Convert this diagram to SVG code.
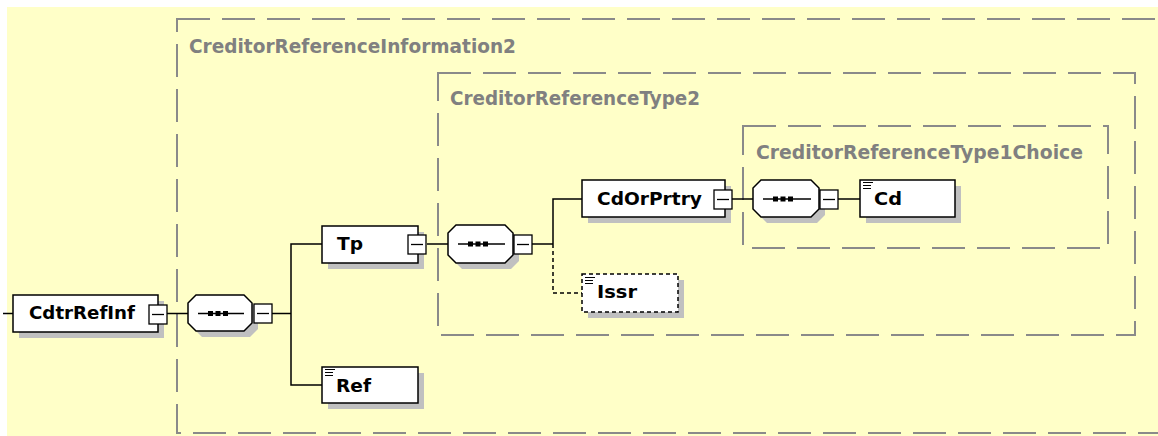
<svg xmlns="http://www.w3.org/2000/svg" width="1158" height="436" viewBox="0 0 1158 436">
<style>
.grp{fill:none;stroke:#8a8a8a;stroke-width:2;stroke-dasharray:33 12}
.gt{font-family:"DejaVu Sans",Verdana,sans-serif;font-weight:bold;font-size:19px;fill:#808080}
.box{fill:#fff;stroke:#000;stroke-width:1.5}
.dbox{fill:#fff;stroke:#000;stroke-width:1.5;stroke-dasharray:4 3}
.sh{fill:#c0c0c0}
.lbl{font-family:"DejaVu Sans",Verdana,sans-serif;font-weight:bold;font-size:17px;fill:#000}
.btn{fill:#fff;stroke:#000;stroke-width:1.3}
.mn{stroke:#000;stroke-width:1.3}
.ln{fill:none;stroke:#000;stroke-width:1.5}
.dl{fill:none;stroke:#000;stroke-width:1.5;stroke-dasharray:4 3}
.ic{stroke:#000;stroke-width:1}
.dot{fill:#000}
</style>
<rect x="7" y="7" width="1151" height="429" fill="#ffffc8"/>
<g id="groups">
<rect class="grp" x="177" y="19" width="1010" height="414"/>
<text class="gt" x="189" y="53" textLength="327" lengthAdjust="spacingAndGlyphs">CreditorReferenceInformation2</text>
<rect class="grp" x="438" y="73" width="697" height="262"/>
<text class="gt" x="450" y="105" textLength="250" lengthAdjust="spacingAndGlyphs">CreditorReferenceType2</text>
<rect class="grp" x="743" y="126" width="365" height="122"/>
<text class="gt" x="756" y="159" textLength="327" lengthAdjust="spacingAndGlyphs">CreditorReferenceType1Choice</text>
</g>
<g id="connectors">
<path class="ln" d="M3,313.5 H13"/>
<path class="ln" d="M167,313.5 H188"/>
<path class="ln" d="M272,313.5 H291"/>
<path class="ln" d="M322,244 H291 V385 H322"/>
<path class="ln" d="M427,244 H448"/>
<path class="ln" d="M532,244 H553"/>
<path class="ln" d="M582,199 H553 V244"/>
<path class="dl" d="M553,244 V293 H582"/>
<path class="ln" d="M732,199 H753"/>
<path class="ln" d="M838,199 H860"/>
</g>
<g id="CdtrRefInf">
<rect class="sh" x="19" y="301" width="145" height="37"/>
<rect class="box" x="13" y="295" width="145" height="37"/>
<text class="lbl" x="29" y="319" textLength="106" lengthAdjust="spacingAndGlyphs">CdtrRefInf</text>
<rect class="btn" x="149" y="305" width="18" height="19"/>
<path class="mn" d="M152,314.5 H164"/>
</g>
<g id="seq1">
<path class="sh" d="M202,301 H250 L258,309 V329 L250,337 H202 L194,329 V309 Z"/>
<path class="box" d="M196,295 H244 L252,303 V323 L244,331 H196 L188,323 V303 Z"/>
<path class="ln" d="M198,313.5 H244"/>
<rect class="dot" x="208" y="311" width="5" height="5"/>
<rect class="dot" x="215.5" y="311" width="5" height="5"/>
<rect class="dot" x="223" y="311" width="5" height="5"/>
<rect class="btn" x="254" y="304" width="18" height="19"/>
<path class="mn" d="M257,313.5 H269"/>
</g>
<g id="Tp">
<rect class="sh" x="328" y="232" width="96" height="37"/>
<rect class="box" x="322" y="226" width="96" height="37"/>
<text class="lbl" x="337" y="250" textLength="26" lengthAdjust="spacingAndGlyphs">Tp</text>
<rect class="btn" x="408" y="235" width="18" height="19"/>
<path class="mn" d="M411,244.5 H423"/>
</g>
<g id="Ref">
<rect class="sh" x="328" y="373" width="96" height="36"/>
<rect class="box" x="322" y="367" width="96" height="36"/>
<path class="ic" d="M325,369.5 H335 M325,372.5 H333 M325,375.5 H333"/>
<text class="lbl" x="336" y="392" textLength="35" lengthAdjust="spacingAndGlyphs">Ref</text>
</g>
<g id="seq2">
<path class="sh" d="M462,231 H511 L519,239 V261 L511,269 H462 L454,261 V239 Z"/>
<path class="box" d="M456,225 H505 L513,233 V255 L505,263 H456 L448,255 V233 Z"/>
<path class="ln" d="M458,244 H505"/>
<rect class="dot" x="468" y="241.5" width="5" height="5"/>
<rect class="dot" x="475.5" y="241.5" width="5" height="5"/>
<rect class="dot" x="483" y="241.5" width="5" height="5"/>
<rect class="btn" x="514" y="235" width="18" height="19"/>
<path class="mn" d="M517,244.5 H529"/>
</g>
<g id="CdOrPrtry">
<rect class="sh" x="588" y="186" width="143" height="37"/>
<rect class="box" x="582" y="180" width="143" height="37"/>
<text class="lbl" x="597" y="205" textLength="105" lengthAdjust="spacingAndGlyphs">CdOrPrtry</text>
<rect class="btn" x="714" y="190" width="18" height="19"/>
<path class="mn" d="M717,199.5 H729"/>
</g>
<g id="Issr">
<rect class="sh" x="588" y="280" width="96" height="38"/>
<rect class="dbox" x="582" y="274" width="96" height="38"/>
<path class="ic" d="M585,277.5 H595 M585,280.5 H593 M585,283.5 H593"/>
<text class="lbl" x="597" y="298" textLength="40" lengthAdjust="spacingAndGlyphs">Issr</text>
</g>
<g id="choice">
<path class="sh" d="M767,186 H817 L825,194 V215 L817,223 H767 L759,215 V194 Z"/>
<path class="box" d="M761,180 H811 L819,188 V209 L811,217 H761 L753,209 V188 Z"/>
<path class="ln" d="M763,199 H811"/>
<rect class="dot" x="773" y="196.5" width="5" height="5"/>
<rect class="dot" x="780.5" y="196.5" width="5" height="5"/>
<rect class="dot" x="788" y="196.5" width="5" height="5"/>
<rect class="btn" x="820" y="190" width="18" height="19"/>
<path class="mn" d="M823,199.5 H835"/>
</g>
<g id="Cd">
<rect class="sh" x="866" y="186" width="95" height="37"/>
<rect class="box" x="860" y="180" width="95" height="37"/>
<path class="ic" d="M863,182.5 H873 M863,185.5 H871 M863,188.5 H871"/>
<text class="lbl" x="874" y="205" textLength="28" lengthAdjust="spacingAndGlyphs">Cd</text>
</g>
</svg>
